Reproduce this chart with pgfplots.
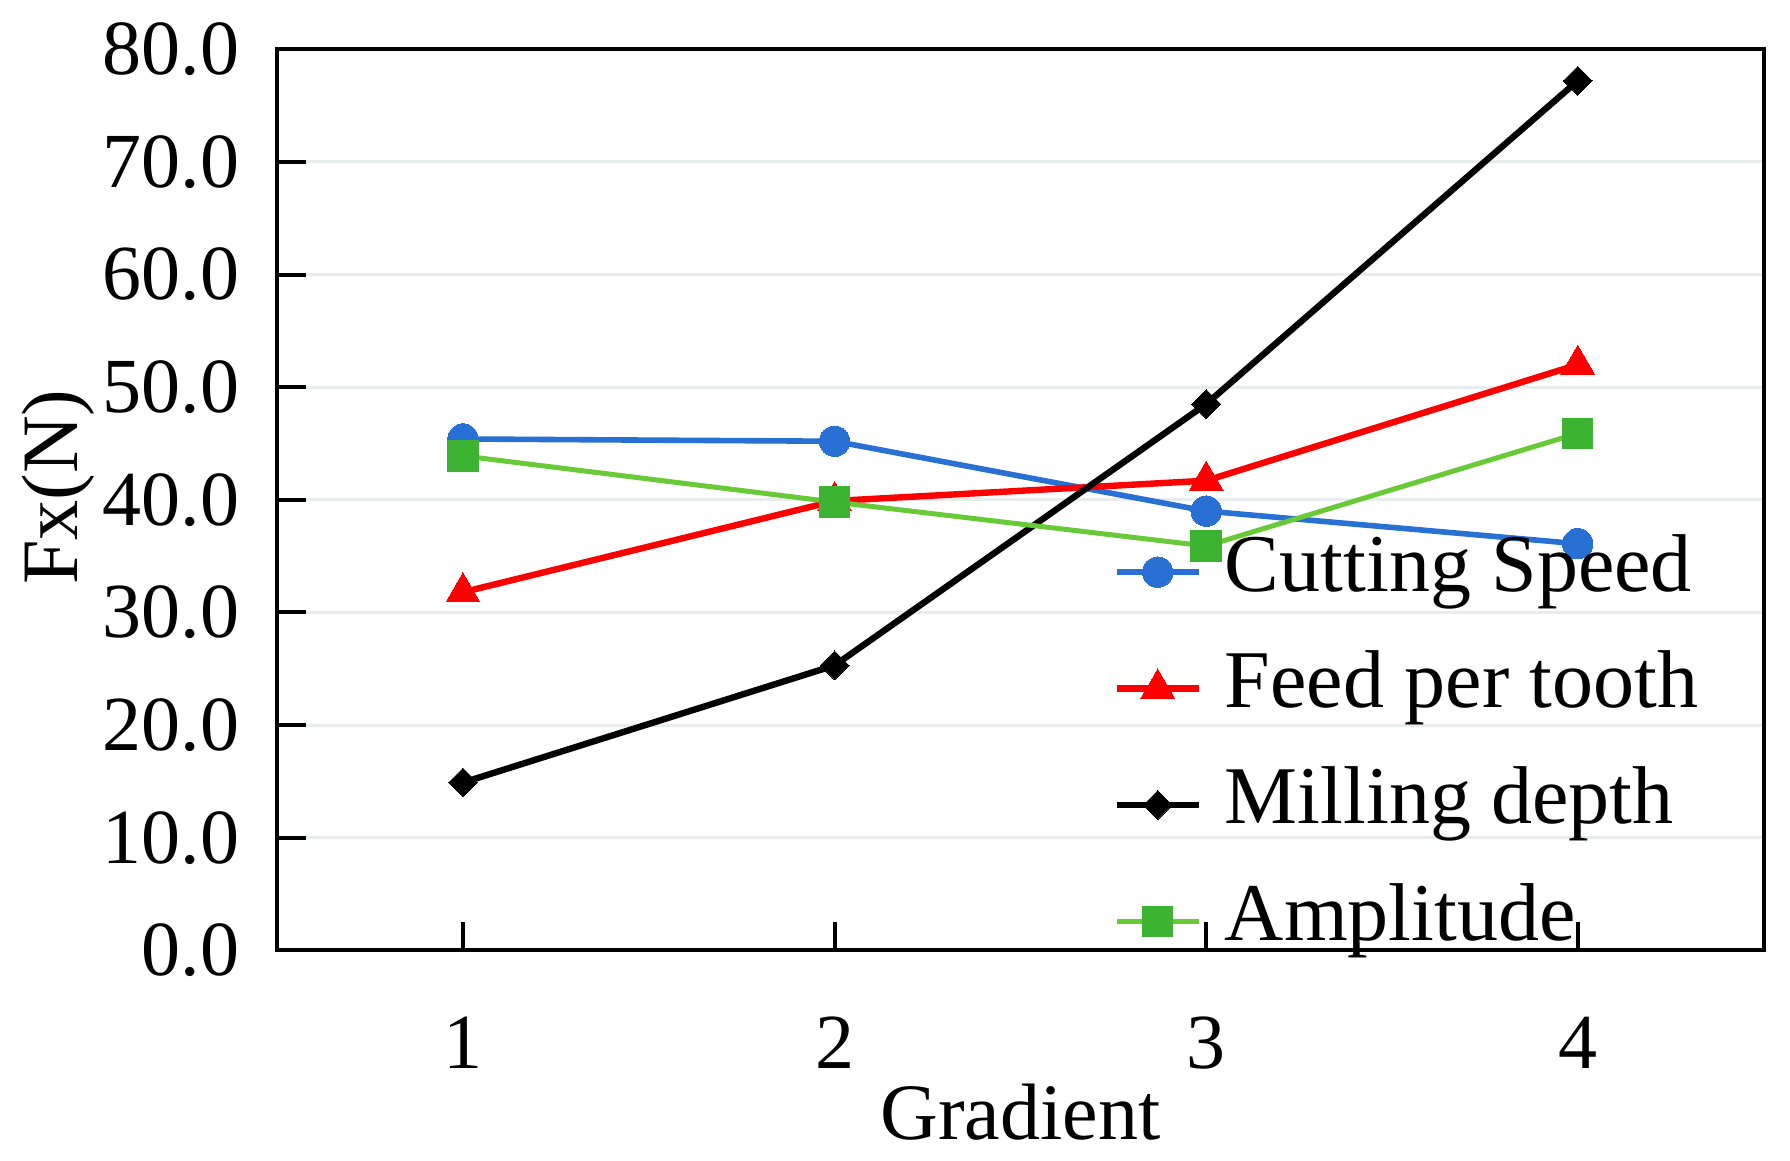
\documentclass[border=0pt]{standalone}
\usepackage{fontspec}
\setmainfont{Liberation Serif}
\usepackage{pgfplots}
\pgfplotsset{compat=1.18}
\definecolor{cblue}{RGB}{40,112,212}
\definecolor{cred}{RGB}{255,0,0}
\definecolor{cgreenl}{RGB}{105,202,55}
\definecolor{cgreenm}{RGB}{60,180,50}
\definecolor{gridc}{RGB}{232,236,236}
\begin{document}
\begin{tikzpicture}
\path[use as bounding box] (-69.3pt,-52.4pt) rectangle (378.2pt,237.6pt);
\begin{axis}[
  at={(0pt,0pt)}, anchor=south west,
  scale only axis, width=371.6pt, height=225.3pt,
  xmin=0.5, xmax=4.5, ymin=0, ymax=80,
  xtick={1,2,3,4}, ytick={0,10,...,80},
  tick pos=left, tick align=inside, major tick length=7.2pt,
  axis line style={line width=1pt},
  tick style={line width=1pt, black},
  ymajorgrids, grid style={line width=0.7pt, color=gridc},
  /pgf/number format/assume math mode=true,
  yticklabel={\pgfmathprintnumber[fixed,fixed zerofill,precision=1,assume math mode=true]{\tick}},
  ticklabel style={font=\fontsize{19.5}{19.5}\selectfont},
  xticklabel style={yshift=-13.2pt},
  yticklabel style={xshift=-6pt},
  xlabel={Gradient},
  ylabel={Fx(N)},
  label style={font=\fontsize{20}{20}\selectfont},
  xlabel style={at={(axis description cs:0.5,0)}, anchor=base, yshift=-47.3pt},
  ylabel style={at={(axis description cs:-0.1472,0.514)}, anchor=center},
  legend image code/.code={\draw[mark repeat=2,mark phase=2] plot coordinates {(0pt,0pt) (10.3pt,0pt) (20.6pt,0pt)};},
  legend cell align=left,
  legend style={at={(axis description cs:0.562,0.226)}, anchor=west, draw=none, fill=none,
    inner sep=0pt, row sep=7.6pt, font=\fontsize{20.5}{20.5}\selectfont,
    nodes={inner sep=0pt, text height=15.5pt, text depth=6pt},
    /tikz/every odd column/.style={column sep=5.7pt}},
]
\addplot[color=cblue, line width=1.4pt, mark=*, mark size=3.8pt, mark options={solid, fill=cblue, draw=cblue, line width=0pt}]
  coordinates {(1,45.4) (2,45.2) (3,39.0) (4,36.1)};
\addlegendentry{Cutting Speed}
\addplot[color=cred, line width=1.6pt, mark=triangle*, mark size=4.9pt, mark options={solid, fill=cred, draw=cred, line width=0pt}]
  coordinates {(1,31.8) (2,39.9) (3,41.7) (4,52.0)};
\addlegendentry{Feed per tooth}
\addplot[color=black, line width=1.6pt, mark=square*, mark size=2.55pt, mark options={solid, rotate=45, fill=black, draw=black, line width=0pt}]
  coordinates {(1,14.9) (2,25.3) (3,48.5) (4,77.2)};
\addlegendentry{Milling depth}
\addplot[color=cgreenl, line width=1.25pt, mark=square*, mark size=3.8pt, mark options={solid, fill=cgreenm, draw=cgreenm, line width=0pt}]
  coordinates {(1,43.9) (2,39.8) (3,35.9) (4,45.9)};
\addlegendentry{Amplitude}
\end{axis}
\end{tikzpicture}
\end{document}
